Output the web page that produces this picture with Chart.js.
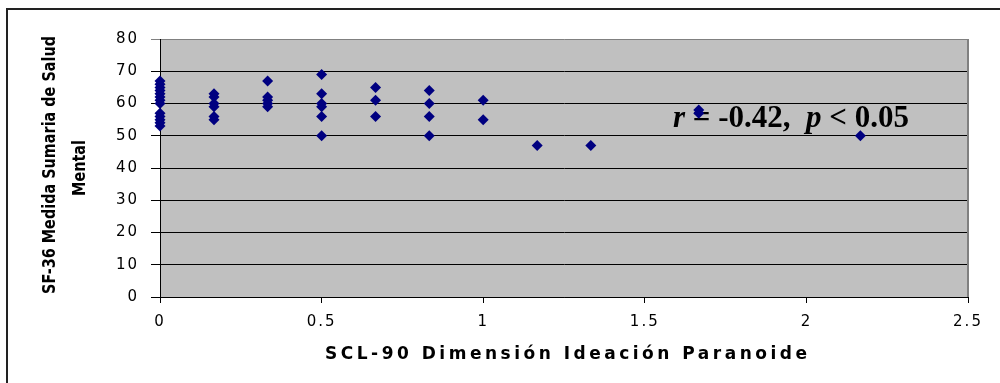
<!DOCTYPE html>
<html>
<head>
<meta charset="utf-8">
<script src="https://cdn.jsdelivr.net/npm/chart.js@4.4.0/dist/chart.umd.min.js"></script>
<style>
  html, body { margin: 0; padding: 0; background: #fff; }
  canvas { display: block; }
</style>
</head>
<body>
<canvas id="grafico" width="1000" height="383"></canvas>
<script>
// SCL-90 ideación paranoide vs SF-36 salud mental
const ideacionParanoide = [
  0, 0, 0, 0, 0, 0, 0, 0, 0, 0, 0, 0, 0,
  0.167, 0.167, 0.167, 0.167, 0.167, 0.167,
  0.333, 0.333, 0.333, 0.333, 0.333,
  0.5, 0.5, 0.5, 0.5, 0.5, 0.5,
  0.667, 0.667, 0.667,
  0.833, 0.833, 0.833, 0.833,
  1, 1,
  1.167,
  1.333,
  1.667, 1.667,
  2.167
];
const saludMental = [
  67, 66, 65, 64, 63, 62, 61, 60, 57, 56, 55, 54, 53,
  63, 62, 60, 59, 56, 55,
  67, 62, 61, 60, 59,
  69, 63, 60, 59, 56, 50,
  65, 61, 56,
  64, 60, 56, 50,
  61, 55,
  47,
  47,
  58, 57,
  50
];
const ticksX = [0, 0.5, 1, 1.5, 2, 2.5];
const ticksY = [0, 10, 20, 30, 40, 50, 60, 70, 80];
const tituloX = 'SCL-90 Dimensión Ideación Paranoide';
const tituloY = ['SF-36 Medida Sumaria de Salud', 'Mental'];
const anotacion = [['r', true], [' = -0.42,  ', false], ['p', true], [' < 0.05', false]];

const puntos = ideacionParanoide.map((x, i) => ({ x: x, y: saludMental[i] }));

const decoracion = {
  id: 'decoracion',
  beforeDraw(chart) {
    const { ctx, chartArea: a } = chart;
    ctx.save();
    ctx.fillStyle = '#c0c0c0';
    ctx.fillRect(a.left, a.top, a.right - a.left, a.bottom - a.top);
    ctx.restore();
    ctx.letterSpacing = '2px'; // etiquetas de los ejes más espaciadas
  },
  beforeDatasetsDraw(chart) {
    const { ctx, chartArea: a } = chart;
    ctx.letterSpacing = '0px';
    ctx.save();
    ctx.strokeStyle = '#808080';
    ctx.lineWidth = 2;
    ctx.beginPath();
    ctx.moveTo(a.right, a.top);
    ctx.lineTo(a.right, a.bottom);
    ctx.stroke();

    // r = -0.42, p < 0.05
    let x = 673;
    ctx.fillStyle = '#000';
    ctx.textBaseline = 'alphabetic';
    anotacion.forEach(([txt, italica]) => {
      ctx.font = (italica ? 'italic ' : '') + 'bold 31px "Liberation Serif", "Times New Roman", serif';
      ctx.fillText(txt, x, 127);
      x += ctx.measureText(txt).width;
    });
    ctx.restore();
  },
  afterDraw(chart) {
    const { ctx } = chart;
    ctx.save();
    ctx.letterSpacing = '0px';
    ctx.fillStyle = '#000';

    // título eje Y (dos líneas, estrecho)
    ctx.font = 'bold 18px "Liberation Sans Narrow", "DejaVu Sans Condensed", "Liberation Sans", sans-serif';
    ctx.textAlign = 'center';
    ctx.textBaseline = 'middle';
    const esc = 258 / ctx.measureText(tituloY[0]).width;
    [[50, 165], [80, 168]].forEach(([cx, cy], i) => {
      ctx.save();
      ctx.translate(cx, cy);
      ctx.rotate(-Math.PI / 2);
      ctx.scale(esc, 1);
      ctx.fillText(tituloY[i], 0, 0);
      ctx.restore();
    });

    // título eje X
    ctx.font = 'bold 17px "DejaVu Sans", "Liberation Sans", sans-serif';
    ctx.textAlign = 'left';
    const w0 = ctx.measureText(tituloX).width;
    ctx.letterSpacing = ((482 - w0) / (tituloX.length - 1)) + 'px';
    ctx.fillText(tituloX, 325, 355);
    ctx.letterSpacing = '0px';

    // marco exterior
    ctx.strokeStyle = '#222';
    ctx.lineWidth = 2;
    ctx.beginPath();
    ctx.moveTo(7, 383);
    ctx.lineTo(7, 9);
    ctx.lineTo(1000, 9);
    ctx.stroke();
    ctx.restore();
  }
};

const fuenteTicks = { family: '"DejaVu Sans", sans-serif', size: 15 };

new Chart(document.getElementById('grafico'), {
  type: 'scatter',
  data: {
    datasets: [{
      data: puntos,
      clip: false,
      pointStyle: 'rectRot',
      pointRadius: 5.5,
      pointHoverRadius: 5.5,
      borderWidth: 0,
      backgroundColor: '#000080',
      borderColor: '#000080'
    }]
  },
  options: {
    responsive: false,
    animation: false,
    events: [],
    layout: { padding: { top: 39, right: 32, left: 0, bottom: 0 } },
    plugins: {
      legend: { display: false },
      tooltip: { enabled: false }
    },
    scales: {
      x: {
        type: 'linear',
        position: 'bottom',
        min: 0,
        max: 2.5,
        afterBuildTicks: s => { s.ticks = ticksX.map(v => ({ value: v })); },
        afterFit: s => { s.height = 86; },
        ticks: {
          color: '#000',
          font: fuenteTicks,
          padding: 10,
          maxRotation: 0,
          callback: v => String(v)
        },
        grid: { drawOnChartArea: false, drawTicks: true, tickLength: 6, color: '#000' },
        border: { color: '#000', width: 1 }
      },
      y: {
        type: 'linear',
        min: 0,
        max: 80,
        afterBuildTicks: s => { s.ticks = ticksY.map(v => ({ value: v })); },
        afterFit: s => { s.width = 160; },
        ticks: {
          color: '#000',
          font: fuenteTicks,
          padding: 12,
          callback: v => String(v)
        },
        grid: {
          drawTicks: true,
          tickLength: 9,
          color: c => (c.tick && c.tick.value === 80 ? '#808080' : '#000'),
          lineWidth: 1
        },
        border: { color: '#000', width: 1 }
      }
    }
  },
  plugins: [decoracion]
});
</script>
</body>
</html>
